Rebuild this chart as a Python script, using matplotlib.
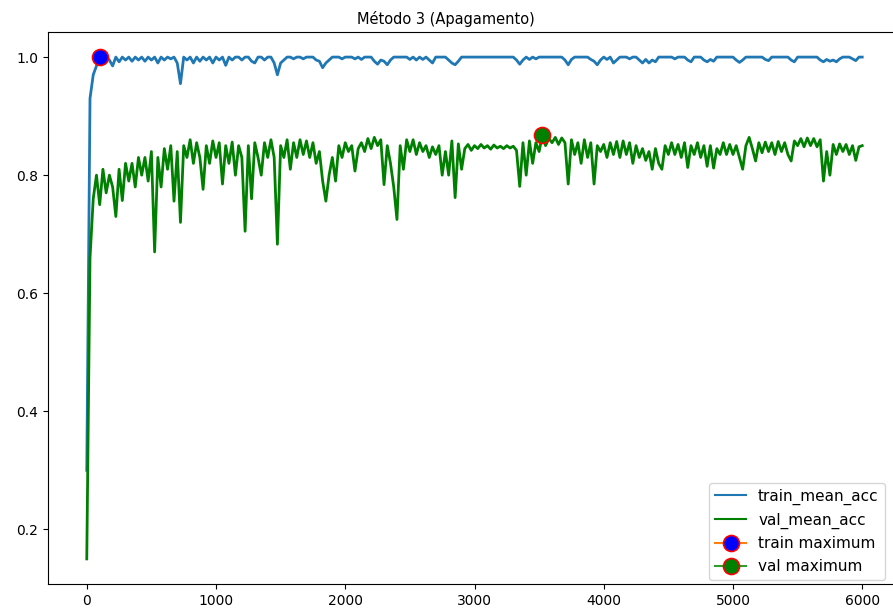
import numpy as np
import matplotlib
matplotlib.use("Agg")
import matplotlib.pyplot as plt

title = "Método 3 (Apagamento)"
steps = list(range(0, 6001, 25))

train_mean_acc = [
    0.30, 0.93, 0.97, 0.985, 1.0, 0.99, 1.0, 0.995, 0.985, 1.0, 0.992, 1.0, 0.995, 1.0, 0.993, 1.0, 0.995, 1.0, 0.993, 1.0,
    0.995, 1.0, 0.99, 1.0, 0.995, 1.0, 0.997, 1.0, 0.99, 0.955, 1.0, 0.995, 1.0, 0.99, 1.0, 0.993, 1.0, 0.995, 1.0, 0.99,
    1.0, 0.995, 1.0, 0.986, 1.0, 0.995, 1.0, 1.0, 0.995, 1.0, 1.0, 0.993, 0.99, 1.0, 1.0, 0.995, 1.0, 1.0, 0.99, 0.97,
    0.99, 0.995, 1.0, 1.0, 0.997, 1.0, 1.0, 0.997, 1.0, 1.0, 1.0, 0.995, 0.993, 0.982, 0.99, 0.995, 1.0, 1.0, 1.0, 0.997,
    1.0, 1.0, 1.0, 0.997, 1.0, 0.996, 1.0, 1.0, 1.0, 0.993, 0.988, 0.995, 0.993, 0.987, 0.995, 1.0, 1.0, 1.0, 1.0, 1.0,
    0.996, 1.0, 0.995, 1.0, 0.996, 1.0, 0.995, 0.99, 1.0, 1.0, 1.0, 1.0, 0.995, 0.99, 0.987, 0.993, 1.0, 1.0, 1.0, 1.0,
    1.0, 1.0, 1.0, 1.0, 1.0, 1.0, 1.0, 1.0, 1.0, 1.0, 1.0, 1.0, 1.0, 0.995, 0.988, 0.995, 1.0, 0.996, 1.0, 0.997,
    1.0, 1.0, 1.0, 1.0, 1.0, 1.0, 1.0, 1.0, 0.995, 0.987, 0.996, 1.0, 1.0, 1.0, 1.0, 1.0, 0.996, 0.993, 0.987, 0.995,
    1.0, 0.996, 1.0, 0.99, 0.995, 1.0, 1.0, 1.0, 0.997, 1.0, 1.0, 0.995, 0.99, 0.996, 0.99, 0.995, 0.992, 1.0, 1.0, 1.0,
    1.0, 1.0, 0.997, 1.0, 1.0, 1.0, 0.995, 0.992, 1.0, 1.0, 1.0, 0.995, 0.992, 0.996, 0.993, 1.0, 1.0, 1.0, 1.0, 1.0,
    1.0, 0.995, 0.991, 0.995, 1.0, 1.0, 1.0, 1.0, 1.0, 1.0, 0.996, 0.994, 1.0, 1.0, 1.0, 1.0, 1.0, 1.0, 0.995, 0.992,
    1.0, 1.0, 1.0, 1.0, 1.0, 1.0, 1.0, 0.995, 0.992, 0.996, 0.993, 0.995, 0.992, 0.997, 1.0, 1.0, 1.0, 0.997, 0.994, 1.0,
    1.0,
]

val_mean_acc = [
    0.15, 0.66, 0.76, 0.80, 0.75, 0.81, 0.77, 0.80, 0.78, 0.73, 0.81, 0.757, 0.82, 0.79, 0.82, 0.78, 0.83, 0.80, 0.83, 0.79,
    0.84, 0.67, 0.83, 0.78, 0.845, 0.81, 0.85, 0.756, 0.84, 0.72, 0.85, 0.83, 0.86, 0.82, 0.855, 0.83, 0.776, 0.85, 0.82, 0.858,
    0.83, 0.855, 0.785, 0.85, 0.82, 0.856, 0.80, 0.85, 0.83, 0.705, 0.85, 0.76, 0.855, 0.83, 0.80, 0.855, 0.83, 0.86, 0.83, 0.683,
    0.85, 0.83, 0.86, 0.81, 0.855, 0.83, 0.86, 0.835, 0.858, 0.83, 0.855, 0.82, 0.84, 0.79, 0.756, 0.80, 0.83, 0.79, 0.85, 0.83,
    0.855, 0.84, 0.85, 0.807, 0.845, 0.855, 0.84, 0.862, 0.845, 0.864, 0.85, 0.86, 0.784, 0.85, 0.82, 0.78, 0.725, 0.85, 0.81, 0.86,
    0.84, 0.86, 0.835, 0.855, 0.84, 0.85, 0.83, 0.848, 0.835, 0.85, 0.80, 0.84, 0.80, 0.858, 0.762, 0.853, 0.81, 0.845, 0.852, 0.842,
    0.85, 0.845, 0.852, 0.846, 0.85, 0.844, 0.851, 0.846, 0.849, 0.845, 0.85, 0.846, 0.849, 0.842, 0.781, 0.855, 0.80, 0.858, 0.82, 0.855,
    0.84, 0.868, 0.85, 0.862, 0.855, 0.864, 0.852, 0.863, 0.855, 0.785, 0.86, 0.835, 0.855, 0.82, 0.86, 0.83, 0.855, 0.785, 0.85, 0.84,
    0.852, 0.83, 0.855, 0.835, 0.857, 0.83, 0.858, 0.835, 0.855, 0.82, 0.85, 0.83, 0.845, 0.825, 0.84, 0.81, 0.845, 0.82, 0.81, 0.85,
    0.835, 0.855, 0.835, 0.852, 0.83, 0.855, 0.813, 0.85, 0.835, 0.855, 0.83, 0.85, 0.815, 0.85, 0.812, 0.845, 0.835, 0.855, 0.835, 0.852,
    0.835, 0.85, 0.83, 0.81, 0.85, 0.864, 0.845, 0.824, 0.855, 0.838, 0.856, 0.84, 0.855, 0.835, 0.857, 0.84, 0.855, 0.835, 0.824, 0.858,
    0.85, 0.862, 0.848, 0.863, 0.85, 0.862, 0.848, 0.86, 0.79, 0.84, 0.80, 0.852, 0.835, 0.853, 0.84, 0.852, 0.835, 0.85, 0.825, 0.848,
    0.85,
]

x = np.array(steps)
tr = np.array(train_mean_acc)
va = np.array(val_mean_acc)

fig = plt.figure(figsize=(8.93, 6.14), dpi=100)
ax = fig.add_axes([48 / 893, 30 / 614, 853 / 893, 552 / 614])

ax.plot(x, tr, color="C0", lw=2.0, label="train_mean_acc")
ax.plot(x, va, color="green", lw=2.0, label="val_mean_acc")

it = int(np.argmax(tr))
iv = int(np.argmax(va))
ax.plot(x[it], tr[it], color="C1", marker="o", markersize=11.5,
        markerfacecolor="blue", markeredgecolor="red", mew=1.2, label="train maximum")
ax.plot(x[iv], va[iv], color="C2", marker="o", markersize=11.5,
        markerfacecolor="green", markeredgecolor="red", mew=1.2, label="val maximum")

ax.set_title(title, fontsize=10.5, x=(446 - 48) / 853)
leg = ax.legend(loc="lower right", fontsize=11, bbox_to_anchor=(0.981, 0.007),
                borderaxespad=0)
for l in leg.get_lines():
    l.set_linewidth(1.5)

ax.tick_params(labelsize=10)

fig.savefig("out.png", dpi=100)
